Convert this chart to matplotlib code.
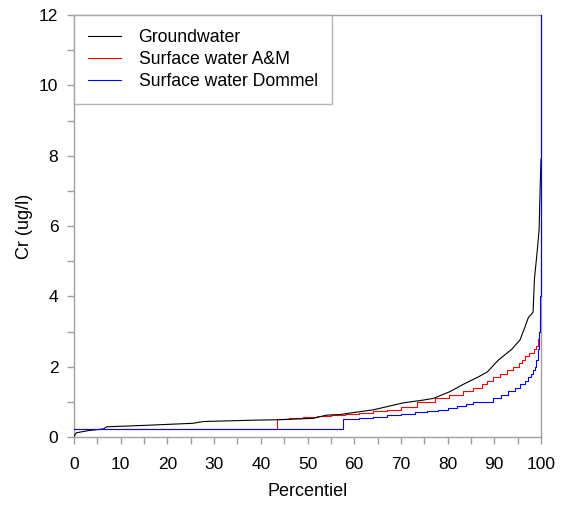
import matplotlib.pyplot as plt
from matplotlib.ticker import MultipleLocator

plt.rcParams['font.family'] = ['Liberation Sans', 'DejaVu Sans']

# Groundwater (black), piecewise line
gw_pct = [0, 0.5, 3, 6.3, 7, 15, 25.5, 27.7, 39, 43.4, 51.2, 54, 57, 61.2, 64,
          70.5, 74.8, 77, 80.5, 83.4, 86.6, 88.5, 90.9, 93.7, 95.5, 96.6, 97.3,
          97.8, 98.3, 98.6, 98.9, 99.2, 99.6, 99.8, 100]
gw_val = [0.02, 0.12, 0.18, 0.23, 0.29, 0.33, 0.39, 0.44, 0.48, 0.49, 0.53, 0.62,
          0.64, 0.72, 0.77, 0.97, 1.05, 1.1, 1.29, 1.5, 1.71, 1.85, 2.19, 2.49,
          2.76, 3.14, 3.4, 3.47, 3.55, 4.5, 4.9, 5.3, 5.9, 7.0, 7.9]

# Surface water A&M (red), stepped
am_pct = [0, 43.4, 46, 49, 52, 55, 58, 61, 64, 67, 70, 73.5, 77.3, 80.2, 83.4,
          85.5, 87.3, 88.4, 89.8, 91.2, 92.7, 94.1, 95.2, 95.9, 96.6, 97.5, 98.4,
          99.0, 99.3, 99.6, 99.8, 100]
am_val = [0.24, 0.5, 0.53, 0.56, 0.59, 0.62, 0.65, 0.69, 0.73, 0.78, 0.85, 1.0,
          1.1, 1.2, 1.3, 1.4, 1.5, 1.6, 1.7, 1.8, 1.9, 2.0, 2.1, 2.2, 2.3, 2.4,
          2.5, 2.6, 2.8, 3.0, 3.4, 4.0]

# Surface water Dommel (blue), stepped
dm_pct = [0, 57.7, 61, 64, 67, 70, 73, 75.5, 78, 80, 82, 84, 85.5, 89.8, 91.5, 93,
          94.5, 95.5, 96.5, 97.2, 97.8, 98.3, 98.7, 99.0, 99.3, 99.6, 99.8, 100]
dm_val = [0.24, 0.5, 0.54, 0.58, 0.62, 0.66, 0.7, 0.74, 0.78, 0.82, 0.87, 0.93,
          1.0, 1.1, 1.2, 1.3, 1.4, 1.5, 1.6, 1.7, 1.8, 1.9, 2.0, 2.2, 2.5, 3.0,
          4.0, 12.0]

fig = plt.figure(figsize=(5.66, 5.09), dpi=100)
ax = fig.add_axes([74 / 566, 72 / 509, 467 / 566, 422 / 509])

ax.plot(am_pct, am_val, color='#ff0000', linewidth=0.8, drawstyle='steps-post',
        label='Surface water A&M', zorder=2)
ax.plot(gw_pct, gw_val, color='black', linewidth=0.8, label='Groundwater', zorder=3)
ax.plot(dm_pct, dm_val, color='#0000ff', linewidth=0.8, drawstyle='steps-post',
        label='Surface water Dommel', zorder=4, clip_on=False)

ax.set_xlim(0, 100)
ax.set_ylim(0, 12)
ax.xaxis.set_major_locator(MultipleLocator(10))
ax.xaxis.set_minor_locator(MultipleLocator(5))
ax.yaxis.set_major_locator(MultipleLocator(2))
ax.yaxis.set_minor_locator(MultipleLocator(1))

for sp in ax.spines.values():
    sp.set_color('#a0a0a0')
    sp.set_linewidth(1.0)
ax.tick_params(which='both', direction='out', length=5.3, width=1.0, color='#a0a0a0',
               top=False, right=False)
ax.tick_params(axis='x', which='major', labelsize=12.5, pad=9)
ax.tick_params(axis='y', which='major', labelsize=12.5, pad=6)

ax.set_xlabel('Percentiel', fontsize=13, labelpad=8)
ax.set_ylabel('Cr (ug/l)', fontsize=13, labelpad=4)

handles, labels = ax.get_legend_handles_labels()
order = [1, 0, 2]
leg = ax.legend([handles[i] for i in order], [labels[i] for i in order],
                loc='upper left', bbox_to_anchor=(0, 1), borderaxespad=0,
                fontsize=12.7, fancybox=False, frameon=True, handlelength=1.87,
                handletextpad=0.99, labelspacing=0.28, borderpad=0.8)
leg.get_frame().set_edgecolor('#a0a0a0')
leg.get_frame().set_linewidth(1.0)
leg.set_zorder(5)

plt.savefig('out.png', dpi=100)
